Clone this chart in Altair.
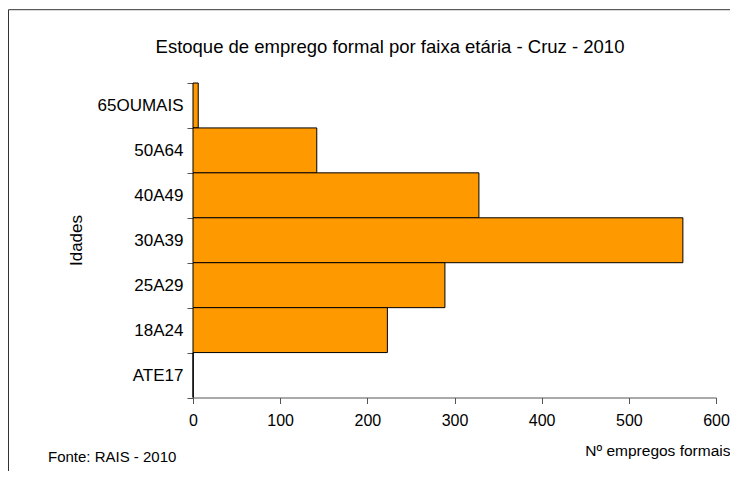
import altair as alt
import pandas as pd

categories = ["65OUMAIS", "50A64", "40A49", "30A39", "25A29", "18A24", "ATE17"]
values = [6, 142, 328, 562, 289, 223, 0]
x_ticks = [0, 100, 200, 300, 400, 500, 600]
title_text = "Estoque de emprego formal por faixa etária - Cruz - 2010"
x_title = "Nº empregos formais"
y_title = "Idades"
source_text = "Fonte: RAIS - 2010"

FONT = "Liberation Sans"
W, H = 523, 314.5

df = pd.DataFrame({"faixa": categories, "n": values})

bars = alt.Chart(df).mark_bar(
    color="#FF9900", stroke="#000000", strokeWidth=1
).encode(
    x=alt.X("n:Q",
            scale=alt.Scale(domain=[0, 600], nice=False),
            axis=alt.Axis(values=x_ticks, grid=False, domainColor="#555555",
                          tickColor="#555555", tickSize=6, labelPadding=9,
                          labelFlush=False,
                          labelFont=FONT, labelFontSize=16, labelColor="#000000",
                          title=x_title, titleFont=FONT, titleFontSize=15.5,
                          titleFontWeight="normal", titleColor="#000000",
                          titleAlign="right", titleBaseline="middle",
                          titleX=537, titleY=53)),
    y=alt.Y("faixa:N", sort=categories,
            scale=alt.Scale(paddingInner=0, paddingOuter=0),
            axis=alt.Axis(tickBand="extent", grid=False, domainColor="#555555",
                          tickColor="#555555", tickSize=6, labelPadding=4,
                          labelFont=FONT, labelFontSize=17, labelColor="#000000",
                          title=y_title, titleFont=FONT, titleFontSize=17,
                          titleFontWeight="normal", titleColor="#000000",
                          titleAngle=-90, titleAlign="center", titleBaseline="middle",
                          titleX=-117, titleY=157)),
)

one = pd.DataFrame({"a": [0]})

frame_left = alt.Chart(one).mark_rule(color="#333333", strokeWidth=1).encode(
    x=alt.value(-184.5), y=alt.value(-73.3), y2=alt.value(600)
)
frame_top = alt.Chart(one).mark_rule(color="#333333", strokeWidth=1).encode(
    x=alt.value(-184.5), x2=alt.value(560), y=alt.value(-73.3)
)

title_df = pd.DataFrame({"t": [title_text]})
title = alt.Chart(title_df).mark_text(
    font=FONT, fontSize=18.5, color="#000000", align="center", baseline="middle"
).encode(text="t:N", x=alt.value(197), y=alt.value(-36))

src_df = pd.DataFrame({"t": [source_text]})
source = alt.Chart(src_df).mark_text(
    font=FONT, fontSize=15, color="#000000", align="left", baseline="middle"
).encode(text="t:N", x=alt.value(48 - 193), y=alt.value(457 - 83))

chart = alt.layer(bars, frame_left, frame_top, title, source).properties(
    width=W, height=H,
    autosize=alt.AutoSizeParams(type="none"),
    padding={"left": 185, "top": 75, "right": 14, "bottom": 73.5},
    background="#ffffff",
).configure_view(stroke=None)

chart.save("out.html", embed_options={"renderer": "svg", "actions": False})
